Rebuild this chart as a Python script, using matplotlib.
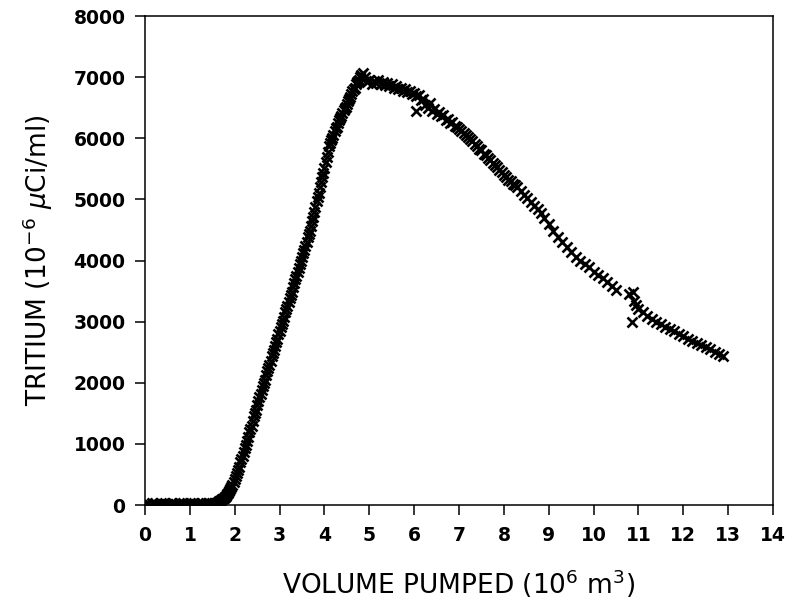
import matplotlib
matplotlib.use("Agg")
import matplotlib.pyplot as plt

# ---- data (volume 10^6 m^3, tritium 10^-6 uCi/ml) ----
vol_flat = [0.00, 0.05, 0.10, 0.15, 0.20, 0.25, 0.30, 0.35, 0.40, 0.45, 0.50, 0.55,
            0.60, 0.65, 0.70, 0.75, 0.80, 0.85, 0.90, 0.95, 1.00, 1.05, 1.10, 1.15,
            1.20, 1.25, 1.30, 1.35, 1.40, 1.45, 1.50, 1.55]
trit_flat = [10, 25, 5, 30, 15, 20, 0, 35, 10, 25, 15, 5,
             30, 20, 10, 25, 15, 30, 5, 20, 35, 10, 25, 15,
             20, 30, 10, 25, 30, 20, 35, 30]

vol_rise = [1.600, 1.625, 1.650, 1.675, 1.700, 1.725, 1.750, 1.775, 1.800, 1.825,
            1.850, 1.875, 1.900, 1.925, 1.950, 1.975, 2.000, 2.025, 2.050, 2.075,
            2.100, 2.125, 2.150, 2.175, 2.200, 2.225, 2.250, 2.275, 2.300, 2.325,
            2.350, 2.375, 2.400, 2.425, 2.450, 2.475, 2.500, 2.525, 2.550, 2.575,
            2.600, 2.625, 2.650, 2.675, 2.700, 2.725, 2.750, 2.775, 2.800, 2.825,
            2.850, 2.875, 2.900, 2.925, 2.950, 2.975, 3.000, 3.025, 3.050, 3.075,
            3.100, 3.125, 3.150, 3.175, 3.200, 3.225, 3.250, 3.275, 3.300, 3.325,
            3.350, 3.375, 3.400, 3.425, 3.450, 3.475, 3.500, 3.525, 3.550, 3.575,
            3.600, 3.625, 3.650, 3.675, 3.700, 3.725, 3.750, 3.775, 3.800, 3.825,
            3.850, 3.875, 3.900, 3.925, 3.950, 3.975, 4.000, 4.025, 4.050, 4.075,
            4.100, 4.125, 4.150, 4.175, 4.200, 4.225, 4.250, 4.275, 4.300, 4.325,
            4.350, 4.375, 4.400, 4.425, 4.450, 4.475, 4.500, 4.525, 4.550, 4.575,
            4.600, 4.625, 4.650, 4.675, 4.700, 4.725, 4.750, 4.775, 4.800, 4.825,
            4.850]
trit_rise = [40, 45, 60, 65, 80, 100, 110, 125, 150, 180,
             200, 225, 260, 300, 330, 370, 420, 480, 520, 570,
             630, 700, 750, 800, 870, 940, 990, 1040, 1110, 1190,
             1240, 1300, 1370, 1450, 1500, 1560, 1640, 1710, 1760, 1810,
             1880, 1950, 2000, 2050, 2120, 2190, 2240, 2290, 2360, 2430,
             2480, 2530, 2600, 2670, 2720, 2790, 2840, 2920, 2960, 3010,
             3080, 3150, 3200, 3250, 3320, 3390, 3440, 3490, 3560, 3630,
             3690, 3740, 3810, 3880, 3940, 3990, 4060, 4130, 4180, 4230,
             4300, 4380, 4430, 4490, 4560, 4650, 4720, 4790, 4880, 4970,
             5040, 5110, 5200, 5290, 5360, 5430, 5520, 5620, 5700, 5780,
             5870, 5930, 5970, 6010, 6060, 6120, 6160, 6190, 6250, 6300,
             6330, 6360, 6410, 6460, 6490, 6510, 6560, 6610, 6640, 6670,
             6720, 6770, 6800, 6830, 6880, 6920, 6940, 6960, 7000, 7040,
             7060]

vol_fall = [4.90, 4.95, 5.00, 5.05, 5.10, 5.15, 5.20, 5.25, 5.30, 5.35, 5.40, 5.45,
            5.50, 5.55, 5.60, 5.65, 5.70, 5.75, 5.80, 5.85, 5.90, 5.95, 6.00, 6.05,
            6.05, 6.10, 6.15, 6.20, 6.25, 6.30, 6.35, 6.40, 6.45, 6.50, 6.55, 6.60,
            6.65, 6.70, 6.75, 6.80, 6.85, 6.90, 6.95, 7.00, 7.05, 7.10, 7.15, 7.20,
            7.25, 7.30, 7.35, 7.40, 7.45, 7.50, 7.55, 7.60, 7.65, 7.70, 7.75, 7.80,
            7.85, 7.90, 7.95, 8.00, 8.05, 8.10, 8.15, 8.20, 8.25, 8.30, 8.38, 8.45,
            8.52, 8.60, 8.68, 8.75, 8.82, 8.90, 9.00, 9.10, 9.20, 9.30, 9.40, 9.50,
            9.60, 9.70, 9.80, 9.90, 10.00, 10.10, 10.20, 10.30, 10.40, 10.50, 10.80,
            10.85, 10.88, 10.90, 10.95, 11.00, 11.10, 11.20, 11.30, 11.40, 11.50,
            11.60, 11.70, 11.80, 11.90, 12.00, 12.10, 12.20, 12.30, 12.40, 12.50,
            12.60, 12.70, 12.80, 12.88]
trit_fall = [7000, 6920, 6950, 6880, 6930, 6900, 6960, 6880, 6920, 6870, 6900, 6850,
             6880, 6830, 6860, 6800, 6820, 6780, 6800, 6750, 6770, 6720, 6740, 6690,
             6450, 6700, 6620, 6650, 6550, 6500, 6580, 6450, 6480, 6400, 6430, 6360,
             6380, 6300, 6320, 6250, 6270, 6200, 6180, 6150, 6120, 6080, 6050, 6020,
             5980, 5950, 5900, 5880, 5820, 5800, 5750, 5720, 5680, 5650, 5600, 5570,
             5530, 5480, 5450, 5400, 5370, 5320, 5300, 5260, 5230, 5200, 5130, 5080,
             5020, 4960, 4900, 4840, 4780, 4700, 4600, 4480, 4380, 4300, 4220, 4140,
             4060, 3990, 3940, 3890, 3820, 3760, 3710, 3650, 3590, 3520, 3450,
             2990, 3480, 3330, 3280, 3200, 3150, 3100, 3050, 3000, 2960,
             2920, 2880, 2840, 2800, 2760, 2720, 2690, 2650, 2610, 2580,
             2550, 2510, 2470, 2440]

x_ticks = list(range(0, 15))
y_ticks = [0, 1000, 2000, 3000, 4000, 5000, 6000, 7000, 8000]

fig = plt.figure(figsize=(7.86, 6.07), dpi=100)
ax = fig.add_axes([0.1845, 0.168, 0.799, 0.8056])

mk = dict(linestyle='none', marker='x', color='black', markersize=6.5, markeredgewidth=1.9)
ax.plot(vol_flat, trit_flat, **mk)
ax.plot(vol_rise, trit_rise, **mk)
ax.plot(vol_fall, trit_fall, **mk)

ax.set_xlim(0, 14)
ax.set_ylim(0, 8000)
ax.set_xticks(x_ticks)
ax.set_yticks(y_ticks)
ax.set_xticklabels([str(v) for v in x_ticks], fontweight='bold')
ax.set_yticklabels([str(v) for v in y_ticks], fontweight='bold')

for s in ax.spines.values():
    s.set_linewidth(1.1)
    s.set_color('black')
ax.tick_params(axis='both', direction='out', length=7, width=1.1, labelsize=13.5, colors='black')
ax.tick_params(axis='x', pad=8)
ax.tick_params(axis='y', pad=7)

ax.set_xlabel(r'VOLUME PUMPED (10$^{6}$ m$^{3}$)', fontsize=19)
ax.set_ylabel(r'TRITIUM (10$^{-6}$ $\mu$Ci/ml)', fontsize=19)
ax.xaxis.set_label_coords(0.50, -0.128)
ax.yaxis.set_label_coords(-0.143, 0.5)

fig.savefig('out.png', dpi=100)
